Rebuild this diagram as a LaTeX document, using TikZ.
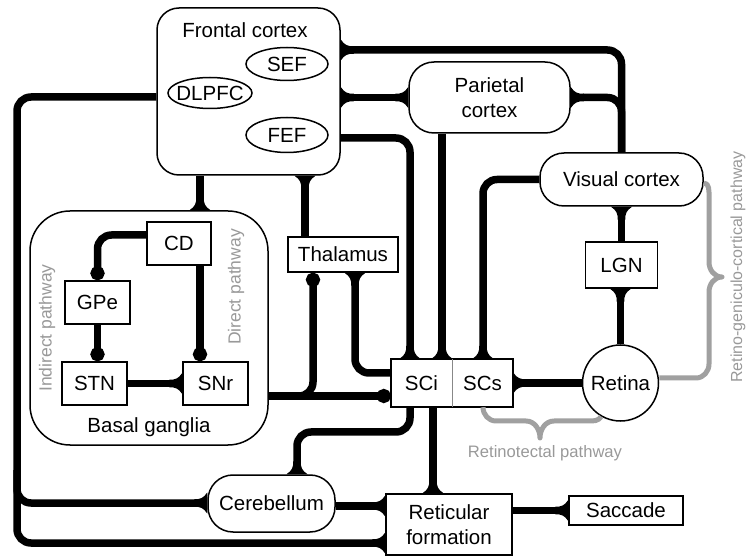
\documentclass[tikz,border=0pt]{standalone}
\usepackage{fontspec}
\setmainfont{Liberation Sans}
\usetikzlibrary{arrows.meta,shapes.geometric}
\definecolor{txtgray}{HTML}{999999}
\definecolor{bracegray}{HTML}{A0A0A0}
\definecolor{divgray}{HTML}{888888}
\newdimen\flaretmp
\pgfdeclarearrow{
  name=Flare,
  parameters={\the\pgfarrowlength,\the\pgfarrowwidth},
  setup code={
    \pgfarrowssettipend{0pt}
    \pgfarrowssetbackend{-\pgfarrowlength}
    \flaretmp=\pgfarrowlength
    \advance\flaretmp by -1pt
    \pgfarrowssetlineend{-\flaretmp}
    \pgfarrowsupperhullpoint{0pt}{.5\pgfarrowwidth}
    \pgfarrowsupperhullpoint{-\pgfarrowlength}{3.75pt}
    \pgfarrowssavethe\pgfarrowlength
    \pgfarrowssavethe\pgfarrowwidth
  },
  drawing code={
    \pgfpathmoveto{\pgfqpoint{0pt}{.5\pgfarrowwidth}}
    \pgfpathcurveto{\pgfqpoint{-.3\pgfarrowlength}{.22\pgfarrowwidth}}{\pgfqpoint{-.55\pgfarrowlength}{3.75pt}}{\pgfqpoint{-\pgfarrowlength}{3.75pt}}
    \pgfpathlineto{\pgfqpoint{-\pgfarrowlength}{-3.75pt}}
    \pgfpathcurveto{\pgfqpoint{-.55\pgfarrowlength}{-3.75pt}}{\pgfqpoint{-.3\pgfarrowlength}{-.22\pgfarrowwidth}}{\pgfqpoint{0pt}{-.5\pgfarrowwidth}}
    \pgfpathclose
    \pgfusepathqfill
  },
  defaults={length=13pt,width=21pt}
}
\tikzset{
  box/.style={draw, line width=1.5pt, fill=white, inner sep=0pt},
  rbox/.style={box, rounded corners=#1},
  ell/.style={draw, ellipse, line width=1.5pt, fill=white, inner sep=0pt},
  conn/.style={line width=7.5pt, rounded corners=14pt},
  exc/.style={-{Flare}},
  exctwo/.style={{Flare}-{Flare}},
  inh/.style={-{Circle[length=14pt,width=14pt]}},
  brace/.style={draw=bracegray, line width=5pt, line join=round},
  graytxt/.style={text=txtgray, inner sep=0pt},
}
\begin{document}
\begin{tikzpicture}[x=1pt,y=-1pt,font=\fontsize{20.5}{25}\selectfont]
\useasboundingbox (0,0) rectangle (748,556);
% ---------- nodes ----------
\node[rbox=22pt, minimum width=183pt, minimum height=167pt] (frontal) at (248.5,91.5) {};
\node[anchor=base] (fclbl) at (245,37.3) {Frontal cortex};
\node[ell, minimum width=82pt, minimum height=33pt] (sef) at (287,64) {\makebox[0pt]{SEF}};
\node[ell, minimum width=84pt, minimum height=31pt] (dlpfc) at (210,93) {\makebox[0pt]{DLPFC}};
\node[ell, minimum width=82pt, minimum height=35pt] (fef) at (287,135) {\makebox[0pt]{FEF}};
\node[rbox=25pt, minimum width=161pt, minimum height=71pt, align=center] (parietal) at (489.5,97.5) {Parietal\\cortex};
\node[rbox=24pt, minimum width=163pt, minimum height=53pt] (vc) at (621.5,179.5) {Visual cortex};
\node[box, minimum width=72pt, minimum height=46pt] (lgn) at (621.5,265) {LGN};
\node[box, circle, minimum size=76pt] (retina) at (620.5,383) {\makebox[0pt]{Retina}};
\node[fill=white, inner sep=0pt, minimum width=61pt, minimum height=48pt] (sci) at (421.5,383) {SCi};
\node[fill=white, inner sep=0pt, minimum width=61pt, minimum height=48pt] (scs) at (482.5,383) {SCs};
\draw[line width=1.5pt] (sci.north west) rectangle (scs.south east);
\draw[line width=1pt, divgray] (sci.north east) -- (sci.south east);
\node[box, minimum width=126pt, minimum height=61pt, align=center] (rf) at (449,524.5) {Reticular\\formation};
\node[box, minimum width=114pt, minimum height=29pt] (saccade) at (626,510.5) {Saccade};
\node[rbox=25pt, minimum width=127pt, minimum height=57pt] (cereb) at (271.5,503.5) {Cerebellum};
\node[box, minimum width=110pt, minimum height=35pt] (thal) at (343,254.5) {Thalamus};
\node[rbox=40pt, minimum width=238pt, minimum height=234pt] (bg) at (149,328) {};
\node[anchor=base] (bglbl) at (149,432.7) {Basal ganglia};
\node[box, minimum width=64pt, minimum height=43pt] (cd) at (179,243.5) {CD};
\node[box, minimum width=65pt, minimum height=43pt] (gpe) at (97.5,302.5) {GPe};
\node[box, minimum width=65pt, minimum height=43pt] (stn) at (94.5,383.5) {STN};
\node[box, minimum width=65pt, minimum height=43pt] (snr) at (215.5,383.5) {SNr};
% ---------- labels ----------
\node[graytxt, rotate=90, font=\fontsize{17.5}{20}\selectfont] (indlbl) at (47,328) {Indirect pathway};
\node[graytxt, rotate=90, font=\fontsize{17.5}{20}\selectfont] (dirlbl) at (236,287) {Direct pathway};
\node[graytxt, rotate=90, font=\fontsize{16}{19}\selectfont] (rgclbl) at (738,267) {Retino-geniculo-cortical pathway};
\node[graytxt, font=\fontsize{16.6}{19}\selectfont] (rtlbl) at (545,453) {Retinotectal pathway};
% ---------- braces ----------
\draw[brace] (scs.south -| 483,0) to[out=-90,in=180] (496,421) -- (526,421)
  to[out=0,in=90] (540,438) to[out=90,in=180] (554,421) -- (588,421)
  to[out=0,in=-120] (retina.240);
\draw[brace] (vc.east |- 0,183) to[out=0,in=90] (709,197) -- (709,262)
  to[out=-90,in=180] (722,277) to[out=180,in=90] (709,292) -- (709,364)
  to[out=-90,in=0] (696,378) -- (retina.east |- 0,378);
% ---------- connectors ----------
\coordinate (lbranch) at (17,470);
\draw[conn, exc] (vc.north -| 621.5,0) |- (frontal.east |- 0,50);
\draw[conn, exc] (vc.north -| 621.5,0) |- (parietal.east);
\draw[conn, exctwo] (frontal.east |- parietal.west) -- (parietal.west);
\draw[conn, exc] (frontal.east |- 0,138) -| (sci.north -| 410,0);
\draw[conn, exc] (parietal.south -| 442,0) -- (sci.north -| 442,0);
\draw[conn, exc] (vc.west) -| (scs.north -| 483,0);
\draw[conn, exc] (thal.north -| 305,0) -- (frontal.south -| 305,0);
\draw[conn, exc] (frontal.south -| 200,0) -- (bg.north -| 200,0);
\draw[conn, inh] (bg.east |- 0,396) -| (thal.south -| 313,0);
\draw[conn, inh] (bg.east |- 0,396) -- (sci.west |- 0,396);
\draw[conn, exc] (sci.west |- 0,373) -| (thal.south -| 355,0);
\draw[conn, exc] (sci.south -| 410,0) |- (297,432) -- (cereb.north -| 297,0);
\draw[conn, exc] (sci.south -| 433,0) -- (rf.north -| 433,0);
\draw[conn, exc] (rf.east |- saccade.west) -- (saccade.west);
\draw[conn, exc] (cereb.east |- 0,506) -- (rf.west |- 0,506);
\draw[conn, exc] (frontal.west |- 0,97) -| (17,543) -- (rf.west |- 0,543);
\draw[conn, exc] (lbranch) |- (cereb.west |- 0,503);
\draw[conn, exc] (retina.west) -- (scs.east);
\draw[conn, exc] (retina.north) -- (retina.north |- lgn.south);
\draw[conn, exc] (lgn.north) -- (lgn.north |- vc.south);
\draw[conn, inh] (cd.west |- 0,235) -| (gpe.north);
\draw[conn, inh] (gpe.south) -- (gpe.south |- stn.north);
\draw[conn, inh] (cd.south -| 200,0) -- (snr.north -| 200,0);
\draw[conn, exc] (stn.east) -- (snr.west);
\end{tikzpicture}
\end{document}
